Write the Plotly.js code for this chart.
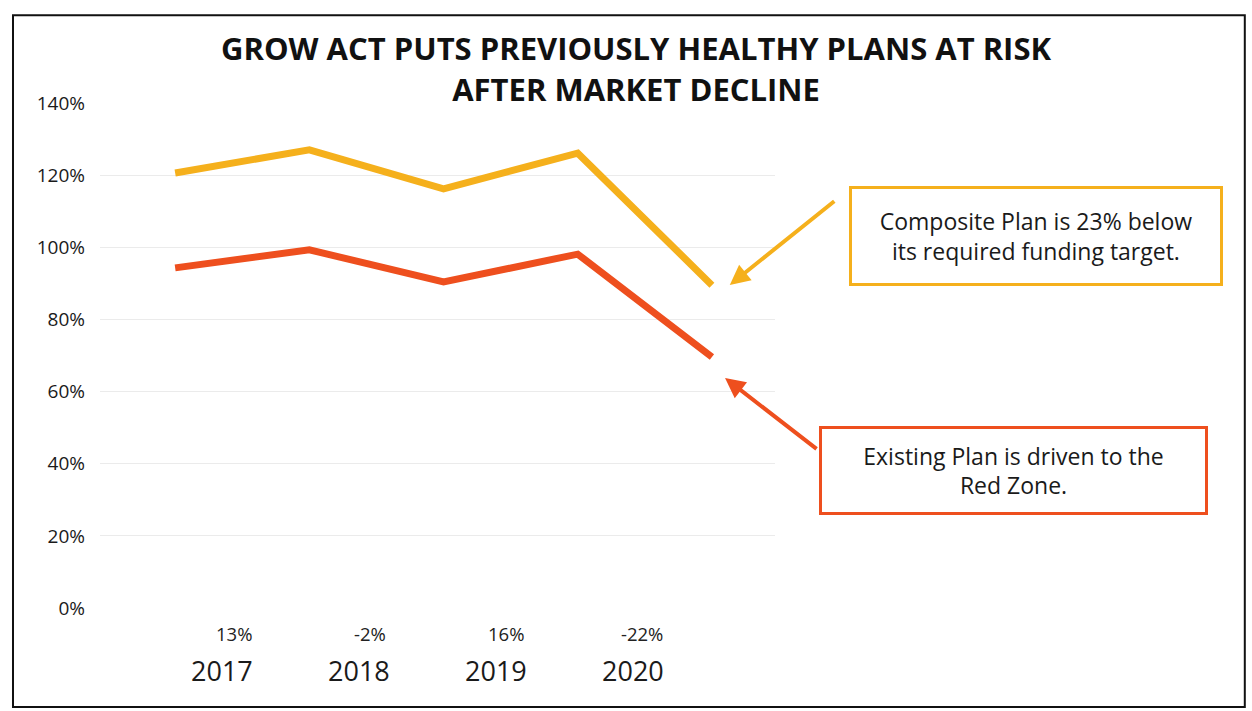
<!DOCTYPE html>
<html>
<head>
<meta charset="utf-8">
<script src="https://cdn.plot.ly/plotly-3.0.1.min.js"></script>
<style>html,body{margin:0;padding:0;background:#fff;}#chart{width:1252px;height:711px;}</style>
</head>
<body>
<div id="chart"></div>
<script>
// Data
const pointIndex = [0, 1, 2, 3, 4];
const composite = [120.6, 127.0, 116.2, 126.1, 89.5];
const existing = [94.3, 99.3, 90.4, 98.1, 69.6];
const years = ['2017', '2018', '2019', '2020'];
const returns = ['13%', '-2%', '16%', '-22%'];
const yTicks = [0, 20, 40, 60, 80, 100, 120, 140];
const yTickLabels = ['0%', '20%', '40%', '60%', '80%', '100%', '120%', '140%'];

const FONT = '"Open Sans", "Noto Sans", sans-serif';
const GOLD = '#F5B01C';
const RED = '#EE4F1E';

const traces = [
  {x: pointIndex, y: composite, mode: 'lines', line: {color: GOLD, width: 7}, name: 'Composite Plan', hoverinfo: 'skip'},
  {x: pointIndex, y: existing, mode: 'lines', line: {color: RED, width: 7}, name: 'Existing Plan', hoverinfo: 'skip'}
];

const annotations = [];
years.forEach((yr, i) => {
  annotations.push({x: i * 1.02 + 0.35, y: -0.124, xref: 'x', yref: 'paper', text: yr, showarrow: false,
    font: {family: FONT, size: 27, color: '#1a1a1a'}, xanchor: 'center', yanchor: 'middle'});
});
returns.forEach((r, i) => {
  annotations.push({x: i * 1.013 + 0.44, y: -0.05, xref: 'x', yref: 'paper', text: r, showarrow: false,
    font: {family: FONT, size: 18.5, color: '#222'}, xanchor: 'center', yanchor: 'middle'});
});
// callout boxes
annotations.push({x: 1.3867, y: 0.7366, xref: 'paper', yref: 'paper', showarrow: false,
  xanchor: 'center', yanchor: 'middle',
  text: 'Composite Plan is 23% below<br>its required funding target.',
  font: {family: FONT, size: 23, color: '#1a1a1a'}, align: 'center',
  width: 368, height: 94, bordercolor: GOLD, borderwidth: 3, borderpad: 0, bgcolor: '#fff'});
annotations.push({x: 1.3526, y: 0.2713, xref: 'paper', yref: 'paper', showarrow: false,
  xanchor: 'center', yanchor: 'middle',
  text: 'Existing Plan is driven to the<br>Red Zone.',
  font: {family: FONT, size: 23, color: '#1a1a1a'}, align: 'center',
  width: 383, height: 83, bordercolor: RED, borderwidth: 3, borderpad: 0, bgcolor: '#fff'});
// arrows
annotations.push({x: 0.933, y: 0.6396, xref: 'paper', yref: 'paper', text: '', showarrow: true,
  ax: 106, ay: -85, arrowcolor: GOLD, arrowwidth: 4, arrowhead: 2, arrowsize: 1});
annotations.push({x: 0.926, y: 0.4554, xref: 'paper', yref: 'paper', text: '', showarrow: true,
  ax: 93, ay: 72, arrowcolor: RED, arrowwidth: 4, arrowhead: 2, arrowsize: 1});

const layout = {
  width: 1252, height: 711,
  margin: {l: 100, r: 477, t: 103, b: 103},
  paper_bgcolor: '#fff', plot_bgcolor: '#fff',
  showlegend: false,
  title: {text: '<b>GROW ACT PUTS PREVIOUSLY HEALTHY PLANS AT RISK<br>AFTER MARKET DECLINE</b>',
    x: 0.508, xanchor: 'center', y: 0.915, yanchor: 'middle', yref: 'container',
    font: {family: FONT, size: 31, color: '#111'}},
  xaxis: {range: [-0.56, 4.47], showgrid: false, zeroline: false, showticklabels: false, showline: false, fixedrange: true},
  yaxis: {range: [0, 140], tickvals: yTicks, ticktext: yTickLabels, showgrid: true, gridcolor: '#ebebeb', gridwidth: 1,
    zeroline: false, showline: false, ticks: '', ticklabelstandoff: 14,
    tickfont: {family: FONT, size: 19, color: '#1a1a1a'}, fixedrange: true},
  shapes: [{type: 'rect', xref: 'paper', yref: 'paper', x0: -0.1289, x1: 1.696, y0: -0.196, y1: 1.174,
    line: {color: '#111', width: 2}}],
  annotations: annotations
};

Plotly.newPlot('chart', traces, layout, {displayModeBar: false, staticPlot: true});
</script>
</body>
</html>
